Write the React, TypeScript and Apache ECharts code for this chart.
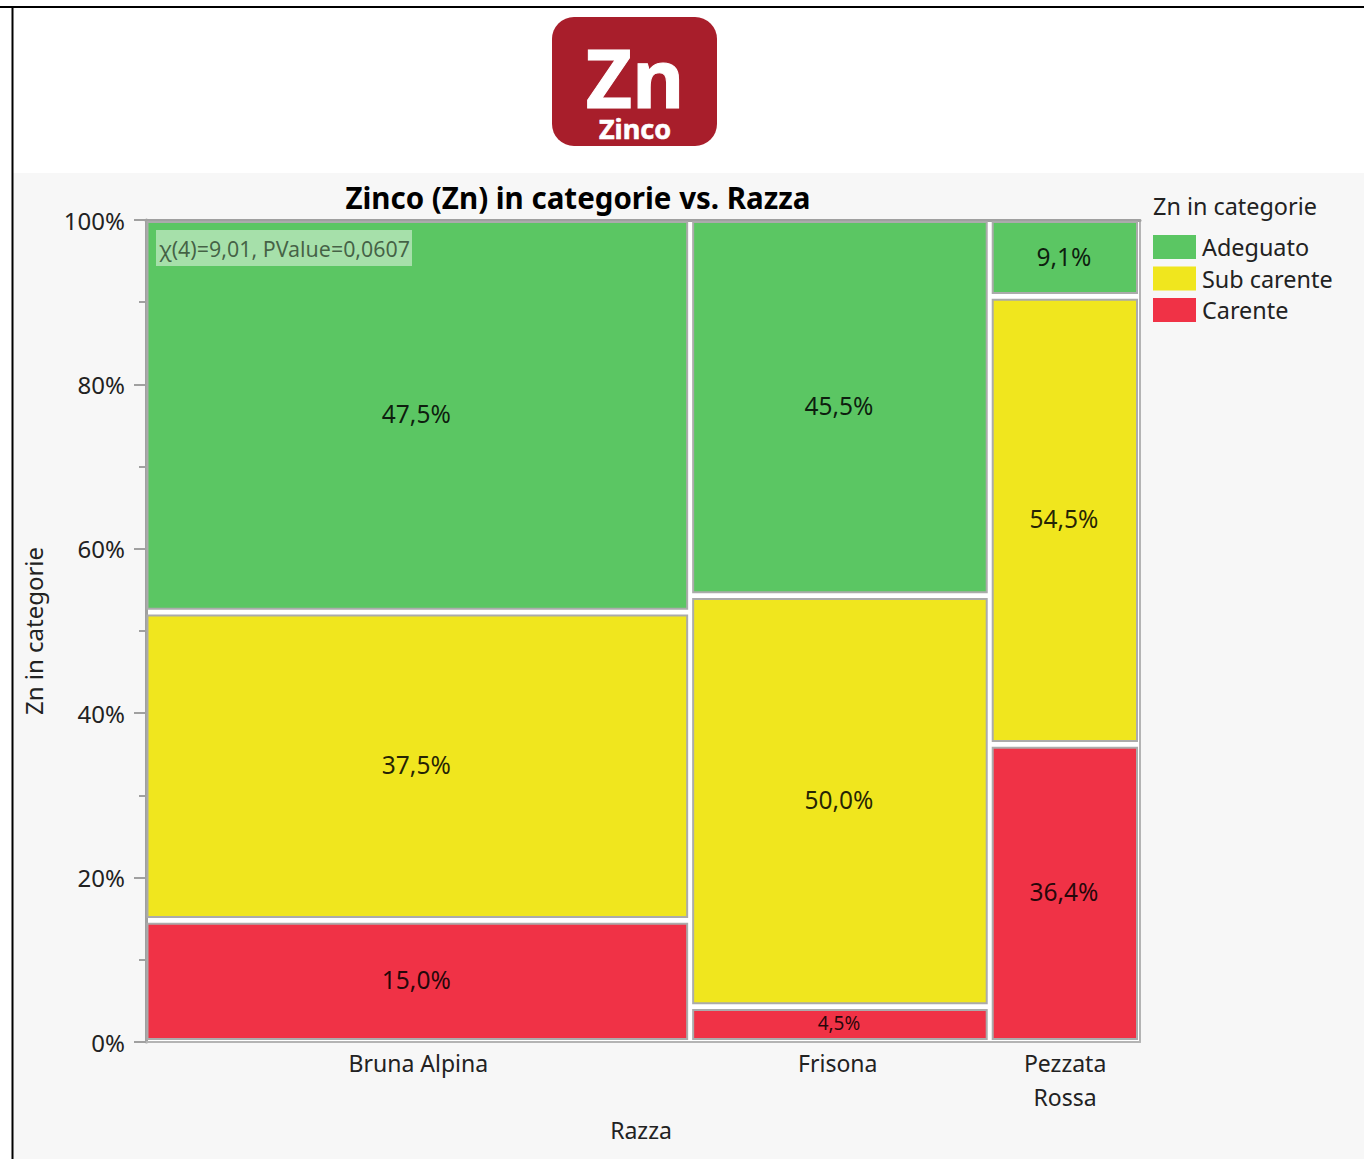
import React, { useEffect, useRef } from "react";
import * as echarts from "echarts";

const titleText = "Zinco (Zn) in categorie vs. Razza";
const legendTitle = "Zn in categorie";
const statText = "χ(4)=9,01, PValue=0,0607";
const xName = "Razza";
const yName = "Zn in categorie";

const breeds = ["Bruna Alpina", "Frisona", "Pezzata\nRossa"];
const breedCounts = [40, 22, 11];
const breedLabelPositions = [20, 50.8, 67.5];

const carente = [15.0, 4.5, 36.4];
const subCarente = [37.5, 50.0, 54.5];
const adeguato = [47.5, 45.5, 9.1];

const FONT = "'Noto Sans', 'Open Sans', sans-serif";
const GREEN = "#5bc663";
const YELLOW = "#f0e61e";
const RED = "#f03246";

const total = breedCounts.reduce((a, b) => a + b, 0);
const breedStarts = breedCounts.map((_, i) => breedCounts.slice(0, i).reduce((a, b) => a + b, 0));

function cells(values: number[], below: number[][]) {
  return values.map((v, i) => {
    const y0 = below.reduce((s, arr) => s + arr[i], 0);
    return [breedStarts[i], breedStarts[i] + breedCounts[i], y0, y0 + v, v];
  });
}

function renderCell(params: any, api: any) {
  const x0 = api.value(0);
  const x1 = api.value(1);
  const y0 = api.value(2);
  const y1 = api.value(3);
  const v = api.value(4);
  const a = api.coord([x0, y0]);
  const b = api.coord([x1, y1]);
  const left = a[0] + (x0 === 0 ? 1.5 : 2.5);
  const right = b[0] - (x1 === total ? 3 : 3.5);
  const bottom = a[1] - (y0 === 0 ? 3 : 1.7);
  const top = b[1] + (y1 >= 99.9 ? 2 : 5);
  const h = bottom - top;
  return {
    type: "rect",
    shape: { x: left, y: top, width: right - left, height: h },
    style: { fill: api.visual("color"), stroke: "#ababab", lineWidth: 2 },
    textContent: {
      style: {
        text: v.toFixed(1).replace(".", ",") + "%",
        fontFamily: FONT,
        fontSize: h < 40 ? 19 : 24.5,
        fill: "rgba(0,0,0,0.85)",
      },
    },
    textConfig: { position: "inside", offset: [-1, -1.5] },
  };
}

function cellSeries(name: string, color: string, data: number[][]) {
  return {
    name,
    type: "custom",
    xAxisIndex: 0,
    yAxisIndex: 0,
    coordinateSystem: "cartesian2d",
    itemStyle: { color },
    encode: { x: [0, 1], y: [2, 3] },
    renderItem: renderCell,
    data,
  };
}

export default function App() {
  const ref = useRef<HTMLDivElement>(null);
  useEffect(() => {
    const chart = echarts.init(ref.current!, undefined, { renderer: "svg" });
    chart.setOption({
      animation: false,
      backgroundColor: "#ffffff",
      textStyle: { fontFamily: FONT },
      title: {
        text: titleText,
        left: 573,
        top: 174,
        textAlign: "center",
        textStyle: { fontFamily: FONT, fontWeight: 700, fontSize: 29.5, color: "#000", lineHeight: 36 },
      },
      legend: {
        orient: "vertical",
        left: 1153,
        top: 235,
        itemWidth: 43,
        itemHeight: 24,
        itemGap: 7.5,
        icon: "rect",
        data: ["Adeguato", "Sub carente", "Carente"],
        textStyle: { fontFamily: FONT, fontSize: 23.4, color: "#222", padding: [0, 0, 2, 1] },
        padding: 0,
      },
      grid: { left: 146, top: 220, width: 994, height: 822, show: true, backgroundColor: "#ffffff", borderWidth: 0 },
      xAxis: [
        {
          type: "value",
          min: 0,
          max: total,
          position: "bottom",
          name: xName,
          nameLocation: "middle",
          nameGap: 76,
          nameTextStyle: { fontFamily: FONT, fontSize: 23, color: "#222", padding: [0, 4, 0, 0] },
          splitLine: { show: false },
          axisTick: { show: false },
          axisLine: { show: true, onZero: false, lineStyle: { color: "#b4b4b4", width: 2 } },
          axisLabel: {
            customValues: breedLabelPositions,
            formatter: (v: number) => breeds[breedLabelPositions.indexOf(v)] ?? "",
            fontFamily: FONT,
            fontSize: 23,
            lineHeight: 34,
            color: "#222",
            margin: 4,
          },
        },
        {
          type: "value",
          min: 0,
          max: total,
          position: "top",
          splitLine: { show: false },
          axisTick: { show: false },
          axisLabel: { show: false },
          axisLine: { show: true, onZero: false, lineStyle: { color: "#a0a0a0", width: 3 } },
        },
      ],
      yAxis: [
        {
          type: "value",
          min: 0,
          max: 100,
          interval: 20,
          position: "left",
          name: yName,
          nameLocation: "middle",
          nameGap: 101,
          nameTextStyle: { fontFamily: FONT, fontSize: 24, color: "#222" },
          splitLine: { show: false },
          minorSplitLine: { show: false },
          axisLine: { show: true, onZero: false, lineStyle: { color: "#a0a0a0", width: 3 } },
          axisTick: { show: true, length: 12, lineStyle: { color: "#a0a0a0", width: 2 } },
          minorTick: { show: true, splitNumber: 2, length: 7, lineStyle: { color: "#a0a0a0", width: 2 } },
          axisLabel: { formatter: "{value}%", fontFamily: FONT, fontSize: 24, color: "#222", margin: 21 },
        },
        {
          type: "value",
          min: 0,
          max: 100,
          position: "right",
          splitLine: { show: false },
          axisTick: { show: false },
          axisLabel: { show: false },
          axisLine: { show: true, onZero: false, lineStyle: { color: "#b4b4b4", width: 2 } },
        },
      ],
      series: [
        cellSeries("Carente", RED, cells(carente, [])),
        cellSeries("Sub carente", YELLOW, cells(subCarente, [carente])),
        cellSeries("Adeguato", GREEN, cells(adeguato, [carente, subCarente])),
      ],
      graphic: [
        { type: "rect", z: -20, silent: true, shape: { x: 12, y: 173, width: 1352, height: 986 }, style: { fill: "#f7f7f7" } },
        { type: "rect", z: 50, silent: true, shape: { x: 0, y: 6, width: 1364, height: 2 }, style: { fill: "#000" } },
        { type: "rect", z: 50, silent: true, shape: { x: 11.5, y: 6, width: 2, height: 1153 }, style: { fill: "#000" } },
        { type: "rect", z: 50, silent: true, shape: { x: 552, y: 17, width: 165, height: 129, r: 22 }, style: { fill: "#a81e2b" } },
        {
          type: "text", z: 51, silent: true, x: 635, y: 76,
          style: { text: "Zn", fontFamily: FONT, fontWeight: 700, fontSize: 80, lineHeight: 74, fill: "#fff", stroke: "#fff", lineWidth: 1, textAlign: "center", textVerticalAlign: "middle" },
        },
        {
          type: "text", z: 51, silent: true, x: 635, y: 128,
          style: { text: "Zinco", fontFamily: FONT, fontWeight: 700, fontSize: 27, lineHeight: 26, fill: "#fff", stroke: "#fff", lineWidth: 0.6, textAlign: "center", textVerticalAlign: "middle" },
        },
        { type: "rect", z: 50, silent: true, shape: { x: 156, y: 230, width: 256, height: 36 }, style: { fill: "rgba(255,255,255,0.46)" } },
        {
          type: "text", z: 51, silent: true, x: 159, y: 248,
          style: { text: statText, fontFamily: FONT, fontSize: 21.4, fill: "rgba(30,50,30,0.72)", textAlign: "left", textVerticalAlign: "middle" },
        },
        {
          type: "text", z: 51, silent: true, x: 1153, y: 206,
          style: { text: legendTitle, fontFamily: FONT, fontSize: 23.4, fill: "#222", textAlign: "left", textVerticalAlign: "middle" },
        },
      ],
    });
    return () => chart.dispose();
  }, []);
  return <div ref={ref} style={{ position: "absolute", left: 0, top: 0, width: 1364, height: 1159 }} />;
}
